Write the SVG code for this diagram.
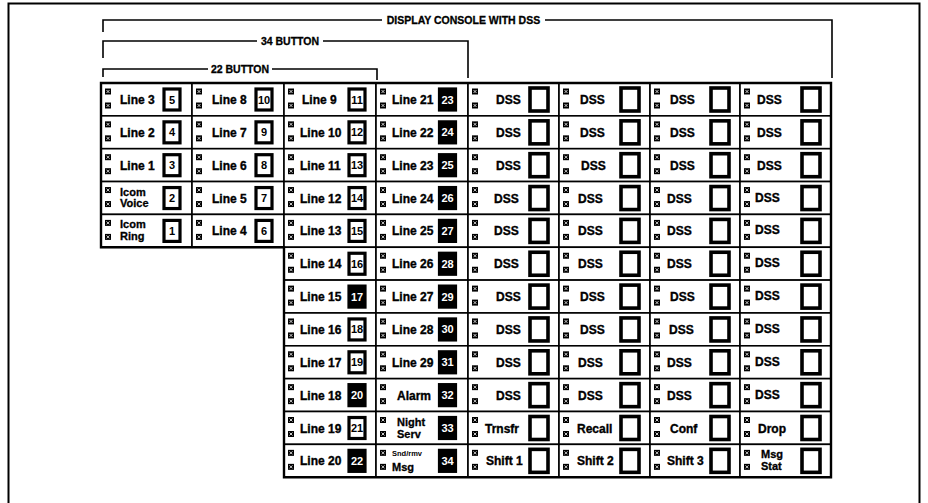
<svg xmlns="http://www.w3.org/2000/svg" width="928" height="503" viewBox="0 0 928 503">
<style>
text{font-family:"Liberation Sans",Arial,Helvetica,sans-serif;font-weight:bold;fill:#000}
.cell{fill:#fff;stroke:#000;stroke-width:1.6}
.lbl{font-size:12px;stroke:#000;stroke-width:0.35}
.l2{font-size:11px;stroke:#000;stroke-width:0.3}
.sm{font-size:7.5px}
.btn{fill:#fff;stroke:#000;stroke-width:3.2}
.btd{fill:#000;stroke:#000;stroke-width:3.2}
.dbx{fill:#fff;stroke:#000;stroke-width:3.6}
.num{font-size:11px;text-anchor:middle}
.nw{fill:#fff}
.br{fill:none;stroke:#000;stroke-width:1.6}
.brt{font-size:10.5px;text-anchor:middle;stroke:#000;stroke-width:0.3}
.edge{fill:none;stroke:#000;stroke-width:2.4}
</style>
<defs>
<g id="leds">
<rect x="4" y="5.5" width="6" height="6" fill="#000"/>
<rect x="4" y="19.5" width="6" height="6" fill="#000"/>
<path d="M5.5,7 l3,3 M8.5,7 l-3,3 M5.5,21 l3,3 M8.5,21 l-3,3" stroke="#fff" stroke-width="0.8"/>
</g>
</defs>
<path d="M8.5,503 V3.5 H919.5 V503" fill="none" stroke="#000" stroke-width="2"/>
<g id="brackets">
<path class="br" d="M103,32 V20 H382 M545,20 H832 V78"/>
<text class="brt" x="463.5" y="23.7">DISPLAY CONSOLE WITH DSS</text>
<path class="br" d="M103,58 V41 H257 M323,41 H468 V78"/>
<text class="brt" x="290" y="44.7">34 BUTTON</text>
<path class="br" d="M103,77 V69 H208 M272,69 H377 V80"/>
<text class="brt" x="240" y="72.7">22 BUTTON</text>
</g>
<g id="connectors"></g>
<!-- column 0 -->
<g id="c0r0" transform="translate(101,83)"><rect class="cell" width="91" height="32.85"/><use href="#leds"/><text class="lbl" x="19" y="21">Line 3</text><rect class="btn" x="63" y="6" width="16" height="21"/><text class="num" x="71" y="20.5">5</text></g>
<g id="c0r1" transform="translate(101,115.85)"><rect class="cell" width="91" height="32.85"/><use href="#leds"/><text class="lbl" x="19" y="21">Line 2</text><rect class="btn" x="63" y="6" width="16" height="21"/><text class="num" x="71" y="20.5">4</text></g>
<g id="c0r2" transform="translate(101,148.7)"><rect class="cell" width="91" height="32.85"/><use href="#leds"/><text class="lbl" x="19" y="21">Line 1</text><rect class="btn" x="63" y="6" width="16" height="21"/><text class="num" x="71" y="20.5">3</text></g>
<g id="c0r3" transform="translate(101,181.55)"><rect class="cell" width="91" height="32.85"/><use href="#leds"/><text class="l2" x="19" y="14">Icom</text><text class="l2" x="19" y="25.5">Voice</text><rect class="btn" x="63" y="6" width="16" height="21"/><text class="num" x="71" y="20.5">2</text></g>
<g id="c0r4" transform="translate(101,214.4)"><rect class="cell" width="91" height="32.85"/><use href="#leds"/><text class="l2" x="19" y="14">Icom</text><text class="l2" x="19" y="25.5">Ring</text><rect class="btn" x="63" y="6" width="16" height="21"/><text class="num" x="71" y="20.5">1</text></g>
<!-- column 1 -->
<g id="c1r0" transform="translate(192,83)"><rect class="cell" width="92" height="32.85"/><use href="#leds"/><text class="lbl" x="20" y="21">Line 8</text><rect class="btn" x="64" y="6" width="16" height="21"/><text class="num" x="72" y="20.5">10</text></g>
<g id="c1r1" transform="translate(192,115.85)"><rect class="cell" width="92" height="32.85"/><use href="#leds"/><text class="lbl" x="20" y="21">Line 7</text><rect class="btn" x="64" y="6" width="16" height="21"/><text class="num" x="72" y="20.5">9</text></g>
<g id="c1r2" transform="translate(192,148.7)"><rect class="cell" width="92" height="32.85"/><use href="#leds"/><text class="lbl" x="20" y="21">Line 6</text><rect class="btn" x="64" y="6" width="16" height="21"/><text class="num" x="72" y="20.5">8</text></g>
<g id="c1r3" transform="translate(192,181.55)"><rect class="cell" width="92" height="32.85"/><use href="#leds"/><text class="lbl" x="20" y="21">Line 5</text><rect class="btn" x="64" y="6" width="16" height="21"/><text class="num" x="72" y="20.5">7</text></g>
<g id="c1r4" transform="translate(192,214.4)"><rect class="cell" width="92" height="32.85"/><use href="#leds"/><text class="lbl" x="20" y="21">Line 4</text><rect class="btn" x="64" y="6" width="16" height="21"/><text class="num" x="72" y="20.5">6</text></g>
<!-- column 2 -->
<g id="c2r0" transform="translate(284,83)"><rect class="cell" width="92" height="32.85"/><use href="#leds"/><text class="lbl" x="18" y="21">Line 9</text><rect class="btn" x="65" y="6" width="16" height="21"/><text class="num" x="73" y="20.5">11</text></g>
<g id="c2r1" transform="translate(284,115.85)"><rect class="cell" width="92" height="32.85"/><use href="#leds"/><text class="lbl" x="16" y="21">Line 10</text><rect class="btn" x="65" y="6" width="16" height="21"/><text class="num" x="73" y="20.5">12</text></g>
<g id="c2r2" transform="translate(284,148.7)"><rect class="cell" width="92" height="32.85"/><use href="#leds"/><text class="lbl" x="16" y="21">Line 11</text><rect class="btn" x="65" y="6" width="16" height="21"/><text class="num" x="73" y="20.5">13</text></g>
<g id="c2r3" transform="translate(284,181.55)"><rect class="cell" width="92" height="32.85"/><use href="#leds"/><text class="lbl" x="16" y="21">Line 12</text><rect class="btn" x="65" y="6" width="16" height="21"/><text class="num" x="73" y="20.5">14</text></g>
<g id="c2r4" transform="translate(284,214.4)"><rect class="cell" width="92" height="32.85"/><use href="#leds"/><text class="lbl" x="16" y="21">Line 13</text><rect class="btn" x="65" y="6" width="16" height="21"/><text class="num" x="73" y="20.5">15</text></g>
<g id="c2r5" transform="translate(284,247.25)"><rect class="cell" width="92" height="32.85"/><use href="#leds"/><text class="lbl" x="16" y="21">Line 14</text><rect class="btn" x="65" y="6" width="16" height="21"/><text class="num" x="73" y="20.5">16</text></g>
<g id="c2r6" transform="translate(284,280.1)"><rect class="cell" width="92" height="32.85"/><use href="#leds"/><text class="lbl" x="16" y="21">Line 15</text><rect class="btd" x="65" y="6" width="16" height="21"/><text class="num nw" x="73" y="20.5">17</text></g>
<g id="c2r7" transform="translate(284,312.95)"><rect class="cell" width="92" height="32.85"/><use href="#leds"/><text class="lbl" x="16" y="21">Line 16</text><rect class="btn" x="65" y="6" width="16" height="21"/><text class="num" x="73" y="20.5">18</text></g>
<g id="c2r8" transform="translate(284,345.8)"><rect class="cell" width="92" height="32.85"/><use href="#leds"/><text class="lbl" x="16" y="21">Line 17</text><rect class="btn" x="65" y="6" width="16" height="21"/><text class="num" x="73" y="20.5">19</text></g>
<g id="c2r9" transform="translate(284,378.65)"><rect class="cell" width="92" height="32.85"/><use href="#leds"/><text class="lbl" x="16" y="21">Line 18</text><rect class="btd" x="65" y="6" width="16" height="21"/><text class="num nw" x="73" y="20.5">20</text></g>
<g id="c2r10" transform="translate(284,411.5)"><rect class="cell" width="92" height="32.85"/><use href="#leds"/><text class="lbl" x="16" y="21">Line 19</text><rect class="btn" x="65" y="6" width="16" height="21"/><text class="num" x="73" y="20.5">21</text></g>
<g id="c2r11" transform="translate(284,444.35)"><rect class="cell" width="92" height="32.85"/><use href="#leds"/><text class="lbl" x="16" y="21">Line 20</text><rect class="btd" x="65" y="6" width="16" height="21"/><text class="num nw" x="73" y="20.5">22</text></g>
<!-- column 3 -->
<g id="c3r0" transform="translate(376,83)"><rect class="cell" width="92" height="32.85"/><use href="#leds"/><text class="lbl" x="16" y="21">Line 21</text><rect class="btd" x="63.5" y="6" width="16" height="21"/><text class="num nw" x="71.5" y="20.5">23</text></g>
<g id="c3r1" transform="translate(376,115.85)"><rect class="cell" width="92" height="32.85"/><use href="#leds"/><text class="lbl" x="16" y="21">Line 22</text><rect class="btd" x="63.5" y="6" width="16" height="21"/><text class="num nw" x="71.5" y="20.5">24</text></g>
<g id="c3r2" transform="translate(376,148.7)"><rect class="cell" width="92" height="32.85"/><use href="#leds"/><text class="lbl" x="16" y="21">Line 23</text><rect class="btd" x="63.5" y="6" width="16" height="21"/><text class="num nw" x="71.5" y="20.5">25</text></g>
<g id="c3r3" transform="translate(376,181.55)"><rect class="cell" width="92" height="32.85"/><use href="#leds"/><text class="lbl" x="16" y="21">Line 24</text><rect class="btd" x="63.5" y="6" width="16" height="21"/><text class="num nw" x="71.5" y="20.5">26</text></g>
<g id="c3r4" transform="translate(376,214.4)"><rect class="cell" width="92" height="32.85"/><use href="#leds"/><text class="lbl" x="16" y="21">Line 25</text><rect class="btd" x="63.5" y="6" width="16" height="21"/><text class="num nw" x="71.5" y="20.5">27</text></g>
<g id="c3r5" transform="translate(376,247.25)"><rect class="cell" width="92" height="32.85"/><use href="#leds"/><text class="lbl" x="16" y="21">Line 26</text><rect class="btd" x="63.5" y="6" width="16" height="21"/><text class="num nw" x="71.5" y="20.5">28</text></g>
<g id="c3r6" transform="translate(376,280.1)"><rect class="cell" width="92" height="32.85"/><use href="#leds"/><text class="lbl" x="16" y="21">Line 27</text><rect class="btd" x="63.5" y="6" width="16" height="21"/><text class="num nw" x="71.5" y="20.5">29</text></g>
<g id="c3r7" transform="translate(376,312.95)"><rect class="cell" width="92" height="32.85"/><use href="#leds"/><text class="lbl" x="16" y="21">Line 28</text><rect class="btd" x="63.5" y="6" width="16" height="21"/><text class="num nw" x="71.5" y="20.5">30</text></g>
<g id="c3r8" transform="translate(376,345.8)"><rect class="cell" width="92" height="32.85"/><use href="#leds"/><text class="lbl" x="16" y="21">Line 29</text><rect class="btd" x="63.5" y="6" width="16" height="21"/><text class="num nw" x="71.5" y="20.5">31</text></g>
<g id="c3r9" transform="translate(376,378.65)"><rect class="cell" width="92" height="32.85"/><use href="#leds"/><text class="lbl" x="21" y="21">Alarm</text><rect class="btd" x="63.5" y="6" width="16" height="21"/><text class="num nw" x="71.5" y="20.5">32</text></g>
<g id="c3r10" transform="translate(376,411.5)"><rect class="cell" width="92" height="32.85"/><use href="#leds"/><text class="l2" x="21" y="14">Night</text><text class="l2" x="21" y="26">Serv</text><rect class="btd" x="63.5" y="6" width="16" height="21"/><text class="num nw" x="71.5" y="20.5">33</text></g>
<g id="c3r11" transform="translate(376,444.35)"><rect class="cell" width="92" height="32.85"/><use href="#leds"/><text class="sm" x="16" y="12">Snd/rmv</text><text class="l2" x="16" y="26.5">Msg</text><rect class="btd" x="63.5" y="6" width="16" height="21"/><text class="num nw" x="71.5" y="20.5">34</text></g>
<!-- column 4 -->
<g id="c4r0" transform="translate(468,83)"><rect class="cell" width="91" height="32.85"/><use href="#leds"/><text class="lbl" x="28" y="21">DSS</text><rect class="dbx" x="62" y="5" width="18" height="23"/></g>
<g id="c4r1" transform="translate(468,115.85)"><rect class="cell" width="91" height="32.85"/><use href="#leds"/><text class="lbl" x="28" y="21">DSS</text><rect class="dbx" x="62" y="5" width="18" height="23"/></g>
<g id="c4r2" transform="translate(468,148.7)"><rect class="cell" width="91" height="32.85"/><use href="#leds"/><text class="lbl" x="28" y="21">DSS</text><rect class="dbx" x="62" y="5" width="18" height="23"/></g>
<g id="c4r3" transform="translate(468,181.55)"><rect class="cell" width="91" height="32.85"/><use href="#leds"/><text class="lbl" x="26" y="21">DSS</text><rect class="dbx" x="62" y="5" width="18" height="23"/></g>
<g id="c4r4" transform="translate(468,214.4)"><rect class="cell" width="91" height="32.85"/><use href="#leds"/><text class="lbl" x="26" y="21">DSS</text><rect class="dbx" x="62" y="5" width="18" height="23"/></g>
<g id="c4r5" transform="translate(468,247.25)"><rect class="cell" width="91" height="32.85"/><use href="#leds"/><text class="lbl" x="26" y="21">DSS</text><rect class="dbx" x="62" y="5" width="18" height="23"/></g>
<g id="c4r6" transform="translate(468,280.1)"><rect class="cell" width="91" height="32.85"/><use href="#leds"/><text class="lbl" x="28" y="21">DSS</text><rect class="dbx" x="62" y="5" width="18" height="23"/></g>
<g id="c4r7" transform="translate(468,312.95)"><rect class="cell" width="91" height="32.85"/><use href="#leds"/><text class="lbl" x="28" y="21">DSS</text><rect class="dbx" x="62" y="5" width="18" height="23"/></g>
<g id="c4r8" transform="translate(468,345.8)"><rect class="cell" width="91" height="32.85"/><use href="#leds"/><text class="lbl" x="28" y="21">DSS</text><rect class="dbx" x="62" y="5" width="18" height="23"/></g>
<g id="c4r9" transform="translate(468,378.65)"><rect class="cell" width="91" height="32.85"/><use href="#leds"/><text class="lbl" x="28" y="21">DSS</text><rect class="dbx" x="62" y="5" width="18" height="23"/></g>
<g id="c4r10" transform="translate(468,411.5)"><rect class="cell" width="91" height="32.85"/><use href="#leds"/><text class="lbl" x="17" y="21">Trnsfr</text><rect class="dbx" x="62" y="5" width="18" height="23"/></g>
<g id="c4r11" transform="translate(468,444.35)"><rect class="cell" width="91" height="32.85"/><use href="#leds"/><text class="lbl" x="18" y="21">Shift 1</text><rect class="dbx" x="62" y="5" width="18" height="23"/></g>
<!-- column 5 -->
<g id="c5r0" transform="translate(559,83)"><rect class="cell" width="91" height="32.85"/><use href="#leds"/><text class="lbl" x="21" y="21">DSS</text><rect class="dbx" x="62" y="5" width="18" height="23"/></g>
<g id="c5r1" transform="translate(559,115.85)"><rect class="cell" width="91" height="32.85"/><use href="#leds"/><text class="lbl" x="21" y="21">DSS</text><rect class="dbx" x="62" y="5" width="18" height="23"/></g>
<g id="c5r2" transform="translate(559,148.7)"><rect class="cell" width="91" height="32.85"/><use href="#leds"/><text class="lbl" x="22" y="21">DSS</text><rect class="dbx" x="62" y="5" width="18" height="23"/></g>
<g id="c5r3" transform="translate(559,181.55)"><rect class="cell" width="91" height="32.85"/><use href="#leds"/><text class="lbl" x="19" y="21">DSS</text><rect class="dbx" x="62" y="5" width="18" height="23"/></g>
<g id="c5r4" transform="translate(559,214.4)"><rect class="cell" width="91" height="32.85"/><use href="#leds"/><text class="lbl" x="19" y="21">DSS</text><rect class="dbx" x="62" y="5" width="18" height="23"/></g>
<g id="c5r5" transform="translate(559,247.25)"><rect class="cell" width="91" height="32.85"/><use href="#leds"/><text class="lbl" x="19" y="21">DSS</text><rect class="dbx" x="62" y="5" width="18" height="23"/></g>
<g id="c5r6" transform="translate(559,280.1)"><rect class="cell" width="91" height="32.85"/><use href="#leds"/><text class="lbl" x="21" y="21">DSS</text><rect class="dbx" x="62" y="5" width="18" height="23"/></g>
<g id="c5r7" transform="translate(559,312.95)"><rect class="cell" width="91" height="32.85"/><use href="#leds"/><text class="lbl" x="21" y="21">DSS</text><rect class="dbx" x="62" y="5" width="18" height="23"/></g>
<g id="c5r8" transform="translate(559,345.8)"><rect class="cell" width="91" height="32.85"/><use href="#leds"/><text class="lbl" x="19" y="21">DSS</text><rect class="dbx" x="62" y="5" width="18" height="23"/></g>
<g id="c5r9" transform="translate(559,378.65)"><rect class="cell" width="91" height="32.85"/><use href="#leds"/><text class="lbl" x="19" y="21">DSS</text><rect class="dbx" x="62" y="5" width="18" height="23"/></g>
<g id="c5r10" transform="translate(559,411.5)"><rect class="cell" width="91" height="32.85"/><use href="#leds"/><text class="lbl" x="18" y="21">Recall</text><rect class="dbx" x="62" y="5" width="18" height="23"/></g>
<g id="c5r11" transform="translate(559,444.35)"><rect class="cell" width="91" height="32.85"/><use href="#leds"/><text class="lbl" x="18" y="21">Shift 2</text><rect class="dbx" x="62" y="5" width="18" height="23"/></g>
<!-- column 6 -->
<g id="c6r0" transform="translate(650,83)"><rect class="cell" width="90" height="32.85"/><use href="#leds"/><text class="lbl" x="20" y="21">DSS</text><rect class="dbx" x="61" y="5" width="18" height="23"/></g>
<g id="c6r1" transform="translate(650,115.85)"><rect class="cell" width="90" height="32.85"/><use href="#leds"/><text class="lbl" x="20" y="21">DSS</text><rect class="dbx" x="61" y="5" width="18" height="23"/></g>
<g id="c6r2" transform="translate(650,148.7)"><rect class="cell" width="90" height="32.85"/><use href="#leds"/><text class="lbl" x="20" y="21">DSS</text><rect class="dbx" x="61" y="5" width="18" height="23"/></g>
<g id="c6r3" transform="translate(650,181.55)"><rect class="cell" width="90" height="32.85"/><use href="#leds"/><text class="lbl" x="17" y="21">DSS</text><rect class="dbx" x="61" y="5" width="18" height="23"/></g>
<g id="c6r4" transform="translate(650,214.4)"><rect class="cell" width="90" height="32.85"/><use href="#leds"/><text class="lbl" x="17" y="21">DSS</text><rect class="dbx" x="61" y="5" width="18" height="23"/></g>
<g id="c6r5" transform="translate(650,247.25)"><rect class="cell" width="90" height="32.85"/><use href="#leds"/><text class="lbl" x="17" y="21">DSS</text><rect class="dbx" x="61" y="5" width="18" height="23"/></g>
<g id="c6r6" transform="translate(650,280.1)"><rect class="cell" width="90" height="32.85"/><use href="#leds"/><text class="lbl" x="20" y="21">DSS</text><rect class="dbx" x="61" y="5" width="18" height="23"/></g>
<g id="c6r7" transform="translate(650,312.95)"><rect class="cell" width="90" height="32.85"/><use href="#leds"/><text class="lbl" x="19" y="21">DSS</text><rect class="dbx" x="61" y="5" width="18" height="23"/></g>
<g id="c6r8" transform="translate(650,345.8)"><rect class="cell" width="90" height="32.85"/><use href="#leds"/><text class="lbl" x="17" y="21">DSS</text><rect class="dbx" x="61" y="5" width="18" height="23"/></g>
<g id="c6r9" transform="translate(650,378.65)"><rect class="cell" width="90" height="32.85"/><use href="#leds"/><text class="lbl" x="17" y="21">DSS</text><rect class="dbx" x="61" y="5" width="18" height="23"/></g>
<g id="c6r10" transform="translate(650,411.5)"><rect class="cell" width="90" height="32.85"/><use href="#leds"/><text class="lbl" x="20" y="21">Conf</text><rect class="dbx" x="61" y="5" width="18" height="23"/></g>
<g id="c6r11" transform="translate(650,444.35)"><rect class="cell" width="90" height="32.85"/><use href="#leds"/><text class="lbl" x="17" y="21">Shift 3</text><rect class="dbx" x="61" y="5" width="18" height="23"/></g>
<!-- column 7 -->
<g id="c7r0" transform="translate(740,83)"><rect class="cell" width="91" height="32.85"/><use href="#leds"/><text class="lbl" x="17" y="21">DSS</text><rect class="dbx" x="62" y="5" width="18" height="23"/></g>
<g id="c7r1" transform="translate(740,115.85)"><rect class="cell" width="91" height="32.85"/><use href="#leds"/><text class="lbl" x="17" y="21">DSS</text><rect class="dbx" x="62" y="5" width="18" height="23"/></g>
<g id="c7r2" transform="translate(740,148.7)"><rect class="cell" width="91" height="32.85"/><use href="#leds"/><text class="lbl" x="17" y="21">DSS</text><rect class="dbx" x="62" y="5" width="18" height="23"/></g>
<g id="c7r3" transform="translate(740,181.55)"><rect class="cell" width="91" height="32.85"/><use href="#leds"/><text class="lbl" x="15" y="20">DSS</text><rect class="dbx" x="62" y="5" width="18" height="23"/></g>
<g id="c7r4" transform="translate(740,214.4)"><rect class="cell" width="91" height="32.85"/><use href="#leds"/><text class="lbl" x="15" y="20">DSS</text><rect class="dbx" x="62" y="5" width="18" height="23"/></g>
<g id="c7r5" transform="translate(740,247.25)"><rect class="cell" width="91" height="32.85"/><use href="#leds"/><text class="lbl" x="15" y="20">DSS</text><rect class="dbx" x="62" y="5" width="18" height="23"/></g>
<g id="c7r6" transform="translate(740,280.1)"><rect class="cell" width="91" height="32.85"/><use href="#leds"/><text class="lbl" x="15" y="20">DSS</text><rect class="dbx" x="62" y="5" width="18" height="23"/></g>
<g id="c7r7" transform="translate(740,312.95)"><rect class="cell" width="91" height="32.85"/><use href="#leds"/><text class="lbl" x="15" y="20">DSS</text><rect class="dbx" x="62" y="5" width="18" height="23"/></g>
<g id="c7r8" transform="translate(740,345.8)"><rect class="cell" width="91" height="32.85"/><use href="#leds"/><text class="lbl" x="15" y="20">DSS</text><rect class="dbx" x="62" y="5" width="18" height="23"/></g>
<g id="c7r9" transform="translate(740,378.65)"><rect class="cell" width="91" height="32.85"/><use href="#leds"/><text class="lbl" x="15" y="20">DSS</text><rect class="dbx" x="62" y="5" width="18" height="23"/></g>
<g id="c7r10" transform="translate(740,411.5)"><rect class="cell" width="91" height="32.85"/><use href="#leds"/><text class="lbl" x="18" y="21">Drop</text><rect class="dbx" x="62" y="5" width="18" height="23"/></g>
<g id="c7r11" transform="translate(740,444.35)"><rect class="cell" width="91" height="32.85"/><use href="#leds"/><text class="l2" x="21" y="14">Msg</text><text class="l2" x="21" y="26">Stat</text><rect class="dbx" x="62" y="5" width="18" height="23"/></g>
<path class="edge" d="M101,83 H831 V477.2 H284 V247.25 H101 Z"/>
</svg>
